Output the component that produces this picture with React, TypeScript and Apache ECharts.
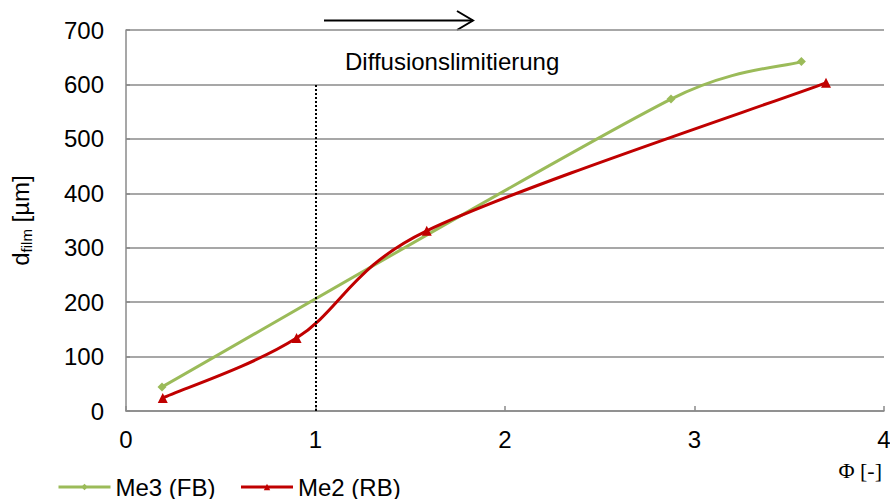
import React, { useEffect, useRef } from "react";
import * as echarts from "echarts";

const me3X = [0.19, 2.876, 3.564];
const me3Y = [44, 573, 642];
const me2X = [0.194, 0.9, 1.587, 3.694];
const me2Y = [24, 134, 331, 603];
const xTicks = [0, 1, 2, 3, 4];
const yTicks = [0, 100, 200, 300, 400, 500, 600, 700];
const limitX = 1;
const limitYTop = 600;
const seriesNames = ["Me3 (FB)", "Me2 (RB)"];
const annotation = "Diffusionslimitierung";

const FONT = "'Liberation Sans', Arial, sans-serif";
const GRID = "#8a8a8a";
const FS = 24;
const GREEN = "#9BBB59";
const RED = "#C00000";

// Excel-like smoothed curve through the data points, projected through the chart's own axes
function smoothRenderer(xs: number[], ys: number[], color: string) {
  return (params: any, api: any) => {
    const p = xs.map((x, i) => api.coord([x, ys[i]]));
    const n = p.length;
    const dist = (a: number[], b: number[]) => Math.hypot(a[0] - b[0], a[1] - b[1]);
    const fwd: number[][] = [];
    const bwd: number[][] = [];
    for (let i = 0; i < n; i++) {
      const prev = p[Math.max(0, i - 1)];
      const next = p[Math.min(n - 1, i + 1)];
      const dx = next[0] - prev[0];
      const dy = next[1] - prev[1];
      const len = Math.hypot(dx, dy) || 1;
      const ux = dx / len;
      const uy = dy / len;
      const base = len / 6;
      const f = i < n - 1 ? Math.min(base, dist(p[i], p[i + 1]) / 2) : 0;
      const b = i > 0 ? Math.min(base, dist(p[i], p[i - 1]) / 2) : 0;
      fwd.push([p[i][0] + ux * f, p[i][1] + uy * f]);
      bwd.push([p[i][0] - ux * b, p[i][1] - uy * b]);
    }
    const children = [];
    for (let i = 0; i < n - 1; i++) {
      children.push({
        type: "bezierCurve",
        shape: {
          x1: p[i][0], y1: p[i][1],
          x2: p[i + 1][0], y2: p[i + 1][1],
          cpx1: fwd[i][0], cpy1: fwd[i][1],
          cpx2: bwd[i + 1][0], cpy2: bwd[i + 1][1],
        },
        style: { stroke: color, lineWidth: 3, fill: null, lineCap: "round" },
      });
    }
    return { type: "group", children };
  };
}

export default function App() {
  const ref = useRef<HTMLDivElement>(null);
  useEffect(() => {
    if (!ref.current) return;
    const chart = echarts.init(ref.current, null, { renderer: "svg" });
    const option = {
      animation: false,
      backgroundColor: "#ffffff",
      textStyle: { fontFamily: FONT },
      grid: { left: 126, right: 6, top: 30, bottom: 88, containLabel: false, outerBoundsMode: "none" },
      legend: {
        left: 57,
        top: 475,
        padding: 0,
        itemWidth: 52,
        itemHeight: 8,
        itemGap: 24,
        lineStyle: { opacity: 1, width: 3 },
        textStyle: { fontFamily: FONT, fontSize: FS, color: "#000" },
        data: seriesNames,
      },
      xAxis: {
        type: "value",
        min: xTicks[0],
        max: xTicks[xTicks.length - 1],
        interval: 1,
        name: "{s|Φ}{a| [-]}",
        nameLocation: "end",
        nameGap: -2,
        nameTextStyle: {
          align: "right",
          verticalAlign: "top",
          padding: [48, 0, 0, 0],
          rich: {
            s: { fontFamily: "'Liberation Serif', serif", fontSize: 22, color: "#000" },
            a: { fontFamily: "'Liberation Serif', serif", fontSize: 22, color: "#000" },
          },
        },
        axisLine: { lineStyle: { color: GRID, width: 1.5 } },
        axisTick: { inside: true, length: 5, lineStyle: { color: GRID, width: 1.5 } },
        axisLabel: { color: "#000", fontSize: FS, fontFamily: FONT, margin: 16 },
        splitLine: { show: false },
      },
      yAxis: {
        type: "value",
        min: yTicks[0],
        max: yTicks[yTicks.length - 1],
        interval: 100,
        name: "{a|d}{b|film}{a| [µm]}",
        nameLocation: "middle",
        nameGap: 91,
        nameTextStyle: {
          rich: {
            a: { fontFamily: FONT, fontSize: FS, color: "#000", lineHeight: 30, verticalAlign: "middle" },
            b: { fontFamily: FONT, fontSize: 15, color: "#000", lineHeight: 30, verticalAlign: "middle", padding: [12, 0, 0, 0] },
          },
        },
        axisLine: { show: true, lineStyle: { color: GRID, width: 1.5 } },
        axisTick: { show: true, inside: true, length: 4, lineStyle: { color: GRID, width: 1.5 } },
        axisLabel: { color: "#000", fontSize: FS, fontFamily: FONT, margin: 22 },
        splitLine: { show: true, lineStyle: { color: GRID, width: 1.5 } },
      },
      series: [
        {
          type: "custom",
          coordinateSystem: "cartesian2d",
          silent: true,
          data: [[me3X[0], me3Y[0]]],
          renderItem: smoothRenderer(me3X, me3Y, GREEN),
          z: 2,
        },
        {
          type: "custom",
          coordinateSystem: "cartesian2d",
          silent: true,
          data: [[me2X[0], me2Y[0]]],
          renderItem: smoothRenderer(me2X, me2Y, RED),
          z: 2,
        },
        {
          name: seriesNames[0],
          type: "line",
          data: me3X.map((x, i) => [x, me3Y[i]]),
          lineStyle: { color: GREEN, width: 3, opacity: 0 },
          itemStyle: { color: GREEN },
          symbol: "diamond",
          symbolSize: 9,
          z: 3,
          markLine: {
            silent: true,
            symbol: "none",
            label: { show: false },
            lineStyle: { color: "#000", type: [2, 2], width: 2, opacity: 1 },
            data: [[{ coord: [limitX, 0] }, { coord: [limitX, limitYTop] }]],
          },
        },
        {
          name: seriesNames[1],
          type: "line",
          data: me2X.map((x, i) => [x, me2Y[i]]),
          lineStyle: { color: RED, width: 3, opacity: 0 },
          itemStyle: { color: RED },
          symbol: "triangle",
          symbolSize: 10,
          z: 4,
        },
      ],
      graphic: [
        {
          type: "text",
          left: 345,
          top: 49,
          style: { text: annotation, fontFamily: FONT, fontSize: FS, fill: "#000" },
        },
        {
          type: "line",
          shape: { x1: 324, y1: 20.5, x2: 473, y2: 20.5 },
          style: { stroke: "#000", lineWidth: 2 },
        },
        {
          type: "polyline",
          shape: { points: [[457, 11], [473, 20.5], [457, 30]] },
          style: { stroke: "#000", lineWidth: 2, fill: null },
        },
      ],
    };
    chart.setOption(option as any);
    return () => chart.dispose();
  }, []);
  return <div ref={ref} style={{ width: 890, height: 499, position: "absolute", left: 0, top: 0 }} />;
}
